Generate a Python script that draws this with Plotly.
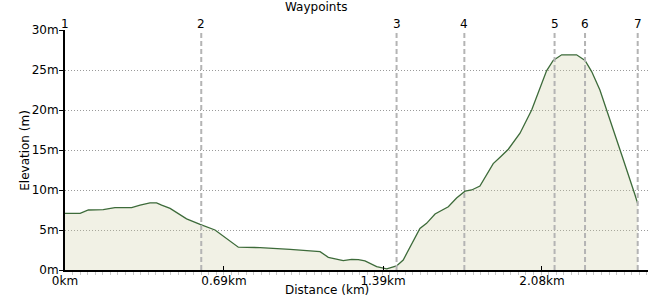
import plotly.graph_objects as go

# ---- data ----
distance_km = [0.000, 0.066, 0.102, 0.167, 0.218, 0.291, 0.328, 0.371, 0.400, 0.422,
               0.459, 0.495, 0.531, 0.590, 0.655, 0.757, 0.852, 0.983, 1.114, 1.150,
               1.215, 1.252, 1.281, 1.310, 1.361, 1.405, 1.448, 1.477, 1.550, 1.579,
               1.616, 1.674, 1.710, 1.747, 1.776, 1.812, 1.870, 1.900, 1.936, 1.987,
               2.038, 2.103, 2.132, 2.169, 2.234, 2.271, 2.300, 2.336, 2.366, 2.431,
               2.489, 2.501]
elevation_m = [7.08, 7.08, 7.5, 7.55, 7.8, 7.8, 8.1, 8.4, 8.4, 8.1,
               7.7, 7.1, 6.4, 5.7, 5.0, 2.85, 2.8, 2.58, 2.3, 1.58,
               1.17, 1.33, 1.29, 1.13, 0.42, 0.15, 0.5, 1.25, 5.2, 5.83,
               7.0, 7.9, 9.0, 9.85, 10.0, 10.5, 13.3, 14.1, 15.1, 17.1,
               20.0, 24.9, 26.2, 26.9, 26.9, 26.2, 24.8, 22.5, 20.0, 14.4,
               9.4, 8.3]

waypoint_km = [0.0, 0.595, 1.448, 1.744, 2.138, 2.271, 2.501]
waypoint_labels = ["1", "2", "3", "4", "5", "6", "7"]

x_tick_vals = [0.0, 0.694, 1.389, 2.083]
x_tick_text = ["0km", "0.69km", "1.39km", "2.08km"]
y_tick_vals = [0, 5, 10, 15, 20, 25, 30]
y_tick_text = ["0m", "5m", "10m", "15m", "20m", "25m", "30m"]

FONT = "DejaVu Sans"

fig = go.Figure()

fig.add_trace(go.Scatter(
    x=distance_km, y=elevation_m, mode="lines",
    line=dict(color="#3d6b3a", width=1.3),
    fill="tozeroy", fillcolor="rgba(205,205,160,0.28)",
    hoverinfo="skip", showlegend=False,
))

# waypoint dashed lines
for wx, wl in zip(waypoint_km, waypoint_labels):
    if wx > 0:
        fig.add_shape(type="line", xref="x", yref="paper", x0=wx, x1=wx, y0=0, y1=1,
                      line=dict(color="#b4b4b4", width=2, dash="5px,3px"), layer="above")
    fig.add_annotation(x=wx, y=1, xref="x", yref="paper", text=wl, showarrow=False,
                       yanchor="bottom", xanchor="center", yshift=-3,
                       font=dict(family=FONT, size=12, color="#000"))

fig.add_annotation(x=0.43, y=1.096, xref="paper", yref="paper", text="Waypoints",
                   showarrow=False, yanchor="middle", xanchor="center",
                   font=dict(family=FONT, size=12, color="#000"))
fig.add_annotation(x=0.449, y=-0.083, xref="paper", yref="paper", text="Distance (km)",
                   showarrow=False, yanchor="middle", xanchor="center",
                   font=dict(family=FONT, size=12, color="#000"))
fig.add_annotation(x=-0.069, y=0.5, xref="paper", yref="paper", text="Elevation (m)",
                   showarrow=False, yanchor="middle", xanchor="center", textangle=-90,
                   font=dict(family=FONT, size=12, color="#000"))

fig.update_layout(
    width=650, height=300,
    margin=dict(l=65, r=2, t=30, b=30),
    paper_bgcolor="white", plot_bgcolor="white",
    font=dict(family=FONT, size=12, color="#000"),
    showlegend=False,
    xaxis=dict(
        range=[0, 2.546], tickvals=x_tick_vals, ticktext=x_tick_text,
        showgrid=False, zeroline=False,
        showline=True, linecolor="#000", linewidth=2,
        ticks="inside", ticklen=4, tickcolor="#000", tickwidth=1,
        ticklabelstandoff=-1,
        tickfont=dict(family=FONT, size=12, color="#000"),
        minor=dict(ticks="outside", ticklen=3, tickcolor="#c8c8c8", tick0=0, dtick=0.033,
                   showgrid=False),
        fixedrange=True,
    ),
    yaxis=dict(
        range=[0, 30], tickvals=y_tick_vals, ticktext=y_tick_text,
        showgrid=True, gridcolor="#9a9a9a", griddash="1px,2px", gridwidth=1,
        zeroline=False,
        showline=True, linecolor="#000", linewidth=2,
        ticks="outside", ticklen=4, tickcolor="#000", tickwidth=1,
        ticklabelstandoff=-2,
        tickfont=dict(family=FONT, size=12, color="#000"),
        fixedrange=True,
    ),
)

fig.write_html("out.html")
